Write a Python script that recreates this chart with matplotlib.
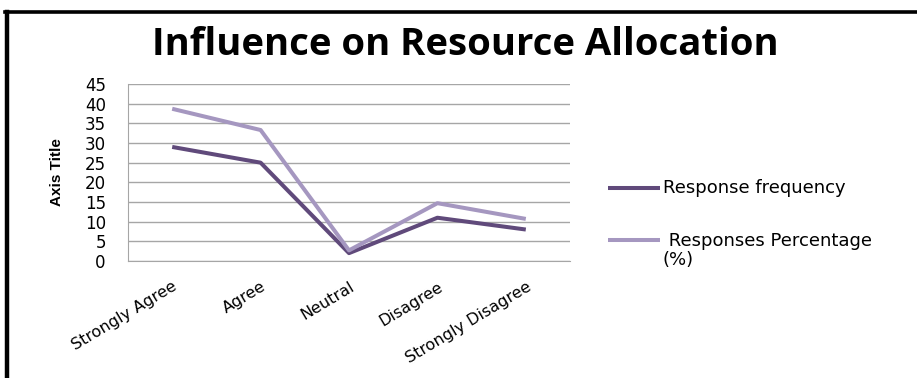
import matplotlib
matplotlib.use("Agg")
import matplotlib.pyplot as plt
from matplotlib.lines import Line2D
import numpy as np

# survey answers
categorias = ["Strongly Agree", "Agree", "Neutral", "Disagree", "Strongly Disagree"]
frequencia = [29, 25, 2, 11, 8]
percentual = [38.7, 33.3, 2.7, 14.7, 10.7]
yticks = [0, 5, 10, 15, 20, 25, 30, 35, 40, 45]

cor_freq = "#604A7B"
cor_perc = "#A597C0"

W, H = 917, 378
fig = plt.figure(figsize=(W / 100, H / 100), dpi=100)
ax = fig.add_axes([128 / W, 1 - 261 / H, 442 / W, 177 / H])

x = np.arange(len(categorias))
l1, = ax.plot(x, frequencia, color=cor_freq, lw=2.9, solid_capstyle="butt")
l2, = ax.plot(x, percentual, color=cor_perc, lw=2.9, solid_capstyle="butt")

ax.set_xlim(-0.5, len(categorias) - 0.5)
ax.set_ylim(0, 45)
ax.set_yticks(yticks)
ax.set_yticklabels([str(v) for v in yticks], fontsize=12, family="DejaVu Sans")
ax.set_xticks(x)
ax.set_xticklabels(categorias, rotation=31, ha="right", va="top",
                   rotation_mode="anchor", fontsize=11.5, family="DejaVu Sans")
ax.tick_params(axis="y", length=0, pad=16)
ax.tick_params(axis="x", length=0, pad=13)
ax.grid(axis="y", color="#A6A6A6", lw=1)
ax.set_axisbelow(True)
for s in ["top", "right"]:
    ax.spines[s].set_visible(False)
ax.spines["left"].set_color("#A6A6A6")
ax.spines["bottom"].set_color("#A6A6A6")

fig.text(57 / W, 1 - 172 / H, "Axis Title", rotation=90, ha="center", va="center",
         fontsize=11, fontweight="bold", family="Liberation Sans")

fig.text(465 / W, 1 - 45 / H, "Influence on Resource Allocation", ha="center",
         va="center", fontsize=27.5, fontweight="bold", family="Open Sans")

# legenda desenhada à mão
for linha, yy in [(l1, 188), (l2, 240)]:
    fig.add_artist(Line2D([608 / W, 660 / W], [1 - yy / H] * 2,
                          color=linha.get_color(), lw=2.9, solid_capstyle="butt"))
fig.text(663 / W, 1 - 188 / H, "Response frequency", va="center",
         fontsize=13, family="DejaVu Sans")
fig.text(663 / W, 1 - 241 / H, " Responses Percentage", va="center",
         fontsize=13, family="DejaVu Sans")
fig.text(663 / W, 1 - 260 / H, "(%)", va="center",
         fontsize=13, family="DejaVu Sans")

# moldura preta (topo e esquerda)
fig.add_artist(Line2D([5 / W, 1], [1 - 11.5 / H] * 2, color="black", lw=2.6))
fig.add_artist(Line2D([7 / W, 7 / W], [0, 1 - 11.5 / H], color="black", lw=3.2))

fig.savefig("out.png", dpi=100)
